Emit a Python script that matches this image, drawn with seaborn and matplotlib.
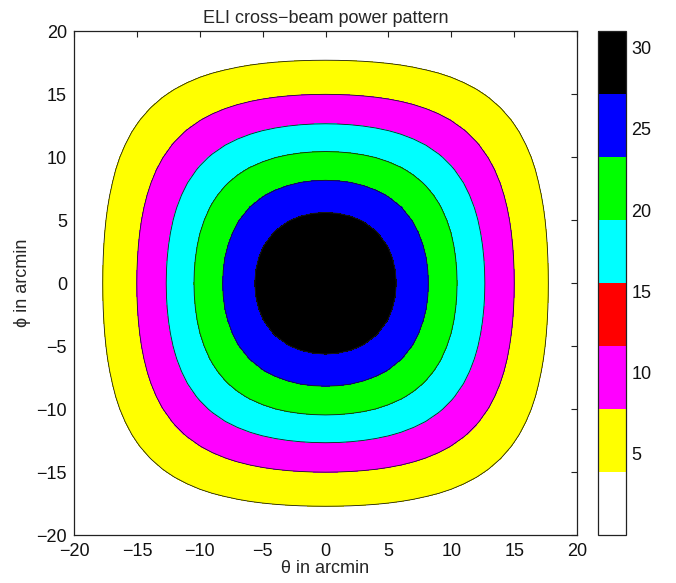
import numpy as np
import matplotlib
matplotlib.use('Agg')
import matplotlib.pyplot as plt
import seaborn as sns
from matplotlib.colors import ListedColormap, Normalize
from matplotlib.cm import ScalarMappable

# contour levels of the power pattern and the peak value
levels = [5.7, 10.9, 16.1, 20.8, 24.9, 28.2]
peak = 31
# radius (arcmin) where each level crosses the theta axis
axis_radius = [17.7, 15.0, 12.68, 10.45, 8.2, 5.6]

fill_colors = ['#ffff00', '#ff00ff', '#00ffff', '#00ff00', '#0000ff', '#000000']
cbar_colors = ['#ffffff', '#ffff00', '#ff00ff', '#ff0000',
               '#00ffff', '#00ff00', '#0000ff', '#000000']
cbar_ticks = [5, 10, 15, 20, 25, 30]

# smooth 1-D beam profile through the axis crossings; cross-beam = product
r2 = np.array([0.0] + [r ** 2 for r in axis_radius])
lnp = np.log(np.array([peak] + levels, dtype=float) / peak)
coef = np.polyfit(r2, lnp, 2)

step = 1.0
theta = np.arange(-20, 20 + step, step)
phi = np.arange(-20, 20 + step, step)
T, P = np.meshgrid(theta, phi)


def profile(x):
    return np.exp(np.polyval(coef, x ** 2) - coef[-1])


Z = peak * profile(T) * profile(P)

sns.set_theme(style='white')
plt.rcParams['font.family'] = ['Liberation Sans', 'DejaVu Sans']

fig = plt.figure(figsize=(6.76, 5.83), dpi=100)
ax = fig.add_axes([0.1095, 0.0823, 0.7441, 0.8637])

ax.contourf(T, P, Z, levels=levels + [peak + 1], colors=fill_colors)
ax.contour(T, P, Z, levels=levels, colors='k', linewidths=0.6)

ax.set_xlim(-20, 20)
ax.set_ylim(-20, 20)
ax.set_xticks(np.arange(-20, 21, 5))
ax.set_yticks(np.arange(-20, 21, 5))
ax.tick_params(direction='in', top=True, right=True, length=4, width=0.8,
               labelsize=13, color='#222222', labelcolor='#111111')
ax.tick_params(axis='x', pad=6)
ax.tick_params(axis='y', pad=5)
for s in ax.spines.values():
    s.set_linewidth(0.9)
    s.set_color('#222222')
ax.set_xlabel('\u03b8 in arcmin', fontsize=13, labelpad=0)
ax.set_ylabel('\u03d5 in arcmin', fontsize=13, labelpad=4)
ax.set_title('ELI cross\u2212beam power pattern', fontsize=13, pad=6)

cax = fig.add_axes([0.8846, 0.0823, 0.0414, 0.8637])
sm = ScalarMappable(norm=Normalize(0, peak), cmap=ListedColormap(cbar_colors))
cb = fig.colorbar(sm, cax=cax, ticks=cbar_ticks)
cb.outline.set_linewidth(0.9)
cb.outline.set_edgecolor('#222222')
cax.tick_params(direction='in', left=True, right=True, length=4, width=0.8,
                labelsize=13, color='#222222', labelcolor='#111111', pad=4)

fig.savefig('out.png', dpi=100)
